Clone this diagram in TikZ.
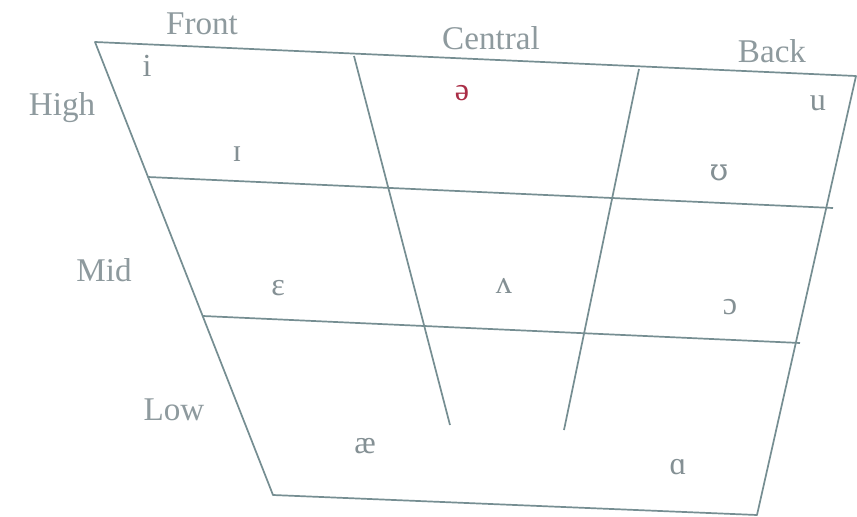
\documentclass[tikz,border=0pt]{standalone}
\usepackage{fontspec}
\setmainfont{Liberation Serif}
\newfontfamily\ipaserif{DejaVu Serif}
\definecolor{vowelChartPaper}{RGB}{255,255,255}
\definecolor{vowelChartLine}{RGB}{118,142,146}
\definecolor{vowelChartLabel}{RGB}{142,154,158}
\definecolor{vowelChartSymbol}{RGB}{132,144,148}
\definecolor{vowelChartMark}{RGB}{170,45,70}

\begin{document}
\begin{tikzpicture}[x=.0175cm,y=-.0175cm,
      axis/.style={font=\fontsize{16.5}{18}\selectfont, text=vowelChartLabel},
      vowel/.style={font=\fontsize{16}{18}\selectfont, text=vowelChartSymbol},
      grid/.style={draw=vowelChartLine, line width=.85pt, line join=round}]
      \useasboundingbox (0,0) rectangle (857,517);
      \fill[vowelChartPaper] (0,0) rectangle (857,517);

      % Outer trapezoid of the chart.
      \coordinate (topLeft) at (95,42);
      \coordinate (topRight) at (856,76);
      \coordinate (bottomRight) at (757,515);
      \coordinate (bottomLeft) at (273,495);
      \path[grid] (topLeft) -- (topRight) -- (bottomRight) -- (bottomLeft) -- cycle;

      \coordinate (highMidL) at (148,177);
      \coordinate (highMidR) at (833,208);
      \coordinate (midLowL) at (203,316);
      \coordinate (midLowR) at (800,343);
      \path[grid] (highMidL) -- (highMidR);
      \path[grid] (midLowL) -- (midLowR);

      \coordinate (frontTop) at (354,56);
      \coordinate (frontEnd) at (450,425);
      \coordinate (backTop) at (639,69);
      \coordinate (backEnd) at (564,430);
      \path[grid] (frontTop) -- (frontEnd);
      \path[grid] (backTop) -- (backEnd);

      \node[axis] (front) at (202,24) {Front};
      \node[axis] (central) at (491,38) {Central};
      \node[axis] (back) at (772,51) {Back};
      \node[axis] (high) at (62,108) {High};
      \node[axis] (mid) at (104,270) {Mid};
      \node[axis] (low) at (174,410) {Low};

      \node[vowel] (iTense) at (147,66) {i};
      \node[vowel] (iLax) at (237,154) {ɪ};
      \node[vowel, text=vowelChartMark] (schwa) at (462,93) {ə};
      \node[vowel] (uTense) at (818,103) {u};
      \node[vowel, font=\fontsize{15}{18}\ipaserif] (uLax) at (719,173) {ʊ};
      \node[vowel] (epsilon) at (278,288) {ɛ};
      \node[vowel] (wedge) at (504,286) {ʌ};
      \node[vowel] (openO) at (730,307) {ɔ};
      \node[vowel] (ash) at (365,446) {æ};
      \node[vowel] (script) at (678,467) {ɑ};
    \end{tikzpicture}
\end{document}
